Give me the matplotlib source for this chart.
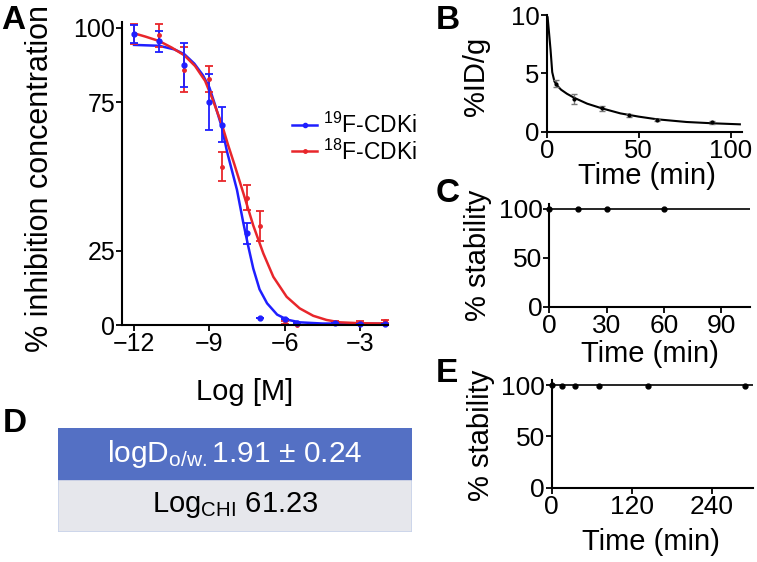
import numpy as np
import matplotlib
matplotlib.use('Agg')
import matplotlib.pyplot as plt
from matplotlib.patches import Rectangle
from matplotlib.lines import Line2D

plt.rcParams['font.family'] = ['Liberation Sans', 'DejaVu Sans']
plt.rcParams['mathtext.fontset'] = 'custom'
plt.rcParams['mathtext.rm'] = 'Liberation Sans'
plt.rcParams['axes.linewidth'] = 1.5

#%% data
# A: inhibition assay
logM = [-12, -11, -10, -9, -8.5, -7.5, -7, -6, -5.5, -4, -3, -2]
f19_mean = [98, 95.5, 87.5, 75, 67.4, 30.9, 2.5, 1.9, 0.8, 0.6, 0.5, 0.5]
f19_err = [3, 3.5, 7.5, 9.5, 5.9, 3.5, 0, 0, 0, 0, 0, 0]
f18_mean = [98, 97.5, 86, 82.7, 53.3, 42.9, 33.4, 0.8, 0, 0.8, 0.8, 1.2]
f18_err = [3.5, 4, 7.5, 4.4, 4.8, 4.3, 5, 0.6, 0, 0.5, 0.5, 0.5]
# fitted curves
f19_fit_x = [-12, -11, -10.4, -10, -9.6, -9.25, -9, -8.77, -8.5, -8.3, -8.1, -7.9,
             -7.65, -7.45, -7.25, -7, -6.7, -6.3, -5.9, -5.4, -4.5, -2]
f19_fit_y = [94.3, 94, 92.8, 91.2, 88, 84, 80, 74, 66.5, 58.5, 52, 45.5,
             34.5, 26.5, 19, 12, 7.3, 3.5, 1.8, 0.9, 0.5, 0.4]
f18_fit_x = [-12, -11.55, -11, -10.5, -10, -9.57, -9.17, -8.9, -8.5, -8.25, -8,
             -7.65, -7.25, -6.85, -6.45, -5.92, -5.4, -4.86, -4.33, -3.8, -3, -2]
f18_fit_y = [98.2, 97.1, 95.6, 93.4, 90.8, 87.2, 82.2, 76.6, 67.5, 60.5, 54,
             44.5, 33.5, 24.1, 16.2, 9.5, 5.6, 3.1, 1.7, 0.9, 0.6, 0.5]
a_xticks = [-12, -9, -6, -3]
a_xticklabels = ['\u221212', '\u22129', '\u22126', '\u22123']

# B: %ID/g vs time
b_t = [5, 15, 30, 45, 60, 90]
b_val = [4.1, 2.8, 2.0, 1.4, 1.0, 0.8]
b_err = [0.3, 0.4, 0.2, 0.1, 0.1, 0.1]
b_fit_t = [0.5, 1.2, 2.1, 3, 4.2, 6, 7.8, 11, 15, 22, 30, 40, 50, 60, 76, 90, 105]
b_fit_y = [9.8, 8.6, 7.0, 5.1, 4.3, 3.9, 3.6, 3.25, 2.9, 2.4, 2.0, 1.57, 1.29, 1.06, 0.83, 0.72, 0.63]

# C, E: stability
c_t = [0, 15, 30, 60]
c_val = [100, 100, 100, 100]
e_t = [0, 16, 35, 71, 144, 290]
e_val = [100, 99.5, 99.5, 99.5, 99.5, 99]

# D: table
d_rows = [r'logD$\mathregular{_{o/w.}}$1.91 ± 0.24', r'Log$\mathregular{_{CHI}}$ 61.23']

blue = '#1f1fff'
red = '#e8262b'

fig = plt.figure(figsize=(7.57, 5.62), dpi=100)


def style(ax, fs):
    for s in ['top', 'right']:
        ax.spines[s].set_visible(False)
    ax.tick_params(direction='out', length=4, width=1.3, labelsize=fs, pad=1)


#%% A
axa = fig.add_axes([0.1612, 0.4217, 0.3514, 0.5391])
style(axa, 18)
axa.plot(f19_fit_x, f19_fit_y, color=blue, lw=1.8, solid_joinstyle='round')
axa.plot(f18_fit_x, f18_fit_y, color=red, lw=1.8, solid_joinstyle='round')
axa.errorbar(logM, f18_mean, yerr=f18_err, fmt='o', ms=2.5, color=red, ecolor=red,
             elinewidth=1.3, capsize=3, capthick=1.3, clip_on=False)
axa.errorbar(logM, f19_mean, yerr=f19_err, fmt='o', ms=3.5, color=blue, ecolor=blue,
             elinewidth=1.3, capsize=3, capthick=1.3, clip_on=False)
axa.set_xlim(-12.48, -1.88)
axa.set_ylim(0, 102)
axa.set_xticks(a_xticks)
axa.set_xticklabels(a_xticklabels)
axa.set_yticks([0, 25, 75, 100])
axa.set_xlabel('Log [M]', fontsize=21)
axa.set_ylabel('% inhibition concentration', fontsize=22)
axa.xaxis.set_label_coords(0.459, -0.175)
axa.yaxis.set_label_coords(-0.252, 0.485)
handles = [Line2D([], [], color=blue, lw=1.8, marker='o', ms=3),
           Line2D([], [], color=red, lw=1.8, marker='o', ms=2.5)]
axa.legend(handles, [r'$\mathregular{^{19}}$F-CDKi', r'$\mathregular{^{18}}$F-CDKi'],
           loc='upper left', bbox_to_anchor=(0.64, 0.70), frameon=False, fontsize=16.5,
           handlelength=1.1, handletextpad=0.25, borderpad=0, borderaxespad=0,
           labelspacing=0.05)

#%% B
axb = fig.add_axes([0.7222, 0.7657, 0.2576, 0.2076])
style(axb, 18.5)
axb.plot(b_fit_t, b_fit_y, color='black', lw=1.5)
axb.errorbar(b_t, b_val, yerr=b_err, fmt='o', ms=2, color='black', ecolor='#777777',
             elinewidth=1, capsize=2, capthick=1)
axb.set_xlim(0, 106)
axb.set_ylim(0, 10)
axb.set_xticks([0, 50, 100])
axb.set_yticks([0, 5, 10])
axb.set_xlabel('Time (min)', fontsize=21)
axb.set_ylabel('%ID/g', fontsize=21)
axb.xaxis.set_label_coords(0.513, -0.26)
axb.yaxis.set_label_coords(-0.29, 0.477)

#%% C
axc = fig.add_axes([0.7257, 0.4543, 0.2651, 0.1827])
style(axc, 19)
axc.axhline(100, color='black', lw=1.2)
axc.plot(c_t, c_val, 'o', ms=3.5, color='black', clip_on=False)
axc.set_xlim(0, 105)
axc.set_ylim(0, 105)
axc.set_xticks([0, 30, 60, 90])
axc.set_yticks([0, 50, 100])
axc.set_xlabel('Time (min)', fontsize=21)
axc.set_ylabel('% stability', fontsize=21)
axc.xaxis.set_label_coords(0.502, -0.324)
axc.yaxis.set_label_coords(-0.287, 0.503)

#%% E
axe = fig.add_axes([0.7288, 0.1322, 0.2663, 0.1916])
style(axe, 19)
axe.axhline(100, color='black', lw=1.2)
axe.plot(e_t, e_val, 'o', ms=3.5, color='black', clip_on=False)
axe.set_xlim(0, 302)
axe.set_ylim(0, 105)
axe.set_xticks([0, 120, 240])
axe.set_yticks([0, 50, 100])
axe.set_xlabel('Time (min)', fontsize=21)
axe.set_ylabel('% stability', fontsize=21)
axe.xaxis.set_label_coords(0.49, -0.374)
axe.yaxis.set_label_coords(-0.281, 0.49)

#%% D table
axd = fig.add_axes([0.0766, 0.0539, 0.4676, 0.184])
axd.set_xlim(0, 1)
axd.set_ylim(0, 1)
axd.axis('off')
axd.add_patch(Rectangle((0, 0), 1, 0.51, facecolor='#e6e7ec', edgecolor='#c9d3ea', lw=1.2))
axd.add_patch(Rectangle((0, 0.51), 1, 0.49, facecolor='#5470c4', edgecolor='#5470c4', lw=1))
axd.text(0.5, 0.755, d_rows[0], color='white', fontsize=21.5, ha='center', va='center')
axd.text(0.5, 0.255, d_rows[1], color='black', fontsize=21, ha='center', va='center')

#%% panel letters
for lab, x, y in [('A', 0.002, 0.991), ('B', 0.576, 0.991), ('C', 0.576, 0.683),
                  ('E', 0.576, 0.363), ('D', 0.003, 0.274)]:
    fig.text(x, y, lab, fontsize=24, fontweight='bold', ha='left', va='top')

fig.savefig('out.png', dpi=100)
